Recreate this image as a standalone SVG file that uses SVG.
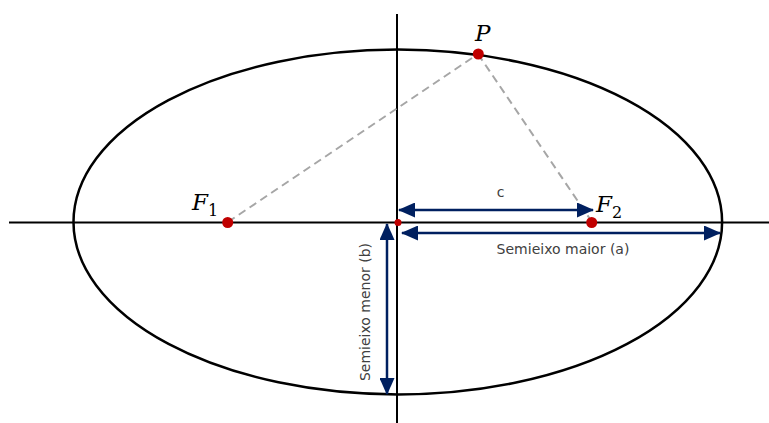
<svg xmlns="http://www.w3.org/2000/svg" width="769" height="423" viewBox="0 0 769 423">
<defs>
<style>
.axis{stroke:#000;stroke-width:2;fill:none}
.ell{stroke:#000;stroke-width:2.5;fill:none}
.dash{stroke:#a6a6a6;stroke-width:2;stroke-dasharray:8 5;fill:none}
.arr{stroke:#002060;stroke-width:2.5;fill:none;marker-start:url(#ah);marker-end:url(#ah)}
.dot{fill:#c00000}
.lbl{font-family:"DejaVu Sans","Liberation Sans",sans-serif;font-size:14px;fill:#404040}
.math{font-family:"DejaVu Serif","Liberation Serif",serif;font-style:italic;fill:#000}
.sub{font-family:"DejaVu Serif","Liberation Serif",serif;fill:#000}
</style>
<marker id="ah" viewBox="0 0 17 15" refX="16" refY="7.5" markerWidth="17" markerHeight="15" markerUnits="userSpaceOnUse" orient="auto-start-reverse">
<path d="M0,0 L17,7.5 L0,15 Z" fill="#002060"/>
</marker>
</defs>
<g id="axes">
<line class="axis" x1="9" y1="222.5" x2="769" y2="222.5"/>
<line class="axis" x1="397" y1="14" x2="397" y2="423"/>
</g>
<g id="ellipse">
<ellipse class="ell" cx="397.8" cy="222" rx="324.3" ry="172.4"/>
</g>
<g id="connectors">
<line class="dash" x1="228" y1="222" x2="478" y2="54"/>
<line class="dash" x1="478" y1="54" x2="590" y2="219"/>
<line class="arr" x1="399" y1="210" x2="593" y2="210"/>
<line class="arr" x1="402" y1="233" x2="720" y2="233"/>
<line class="arr" x1="387" y1="224" x2="387" y2="394"/>
</g>
<g id="P">
<circle class="dot" cx="478.3" cy="54" r="5.5"/>
<text class="math" x="475" y="41" font-size="23">P</text>
</g>
<g id="F1">
<circle class="dot" cx="227.7" cy="222.5" r="5.5"/>
<text class="math" x="192" y="210" font-size="23">F</text>
<text class="sub" x="208" y="216" font-size="16">1</text>
</g>
<g id="F2">
<circle class="dot" cx="591.7" cy="222.5" r="5.5"/>
<text class="math" x="596" y="212" font-size="23">F</text>
<text class="sub" x="612" y="218" font-size="16">2</text>
</g>
<g id="origin">
<circle class="dot" cx="398" cy="222.5" r="3.5"/>
</g>
<g id="labels">
<text class="lbl" x="500.5" y="197" text-anchor="middle">c</text>
<text class="lbl" x="563" y="254" text-anchor="middle">Semieixo maior (a)</text>
<text class="lbl" x="0" y="0" text-anchor="middle" transform="translate(370,312) rotate(-90)">Semieixo menor (b)</text>
</g>
</svg>
